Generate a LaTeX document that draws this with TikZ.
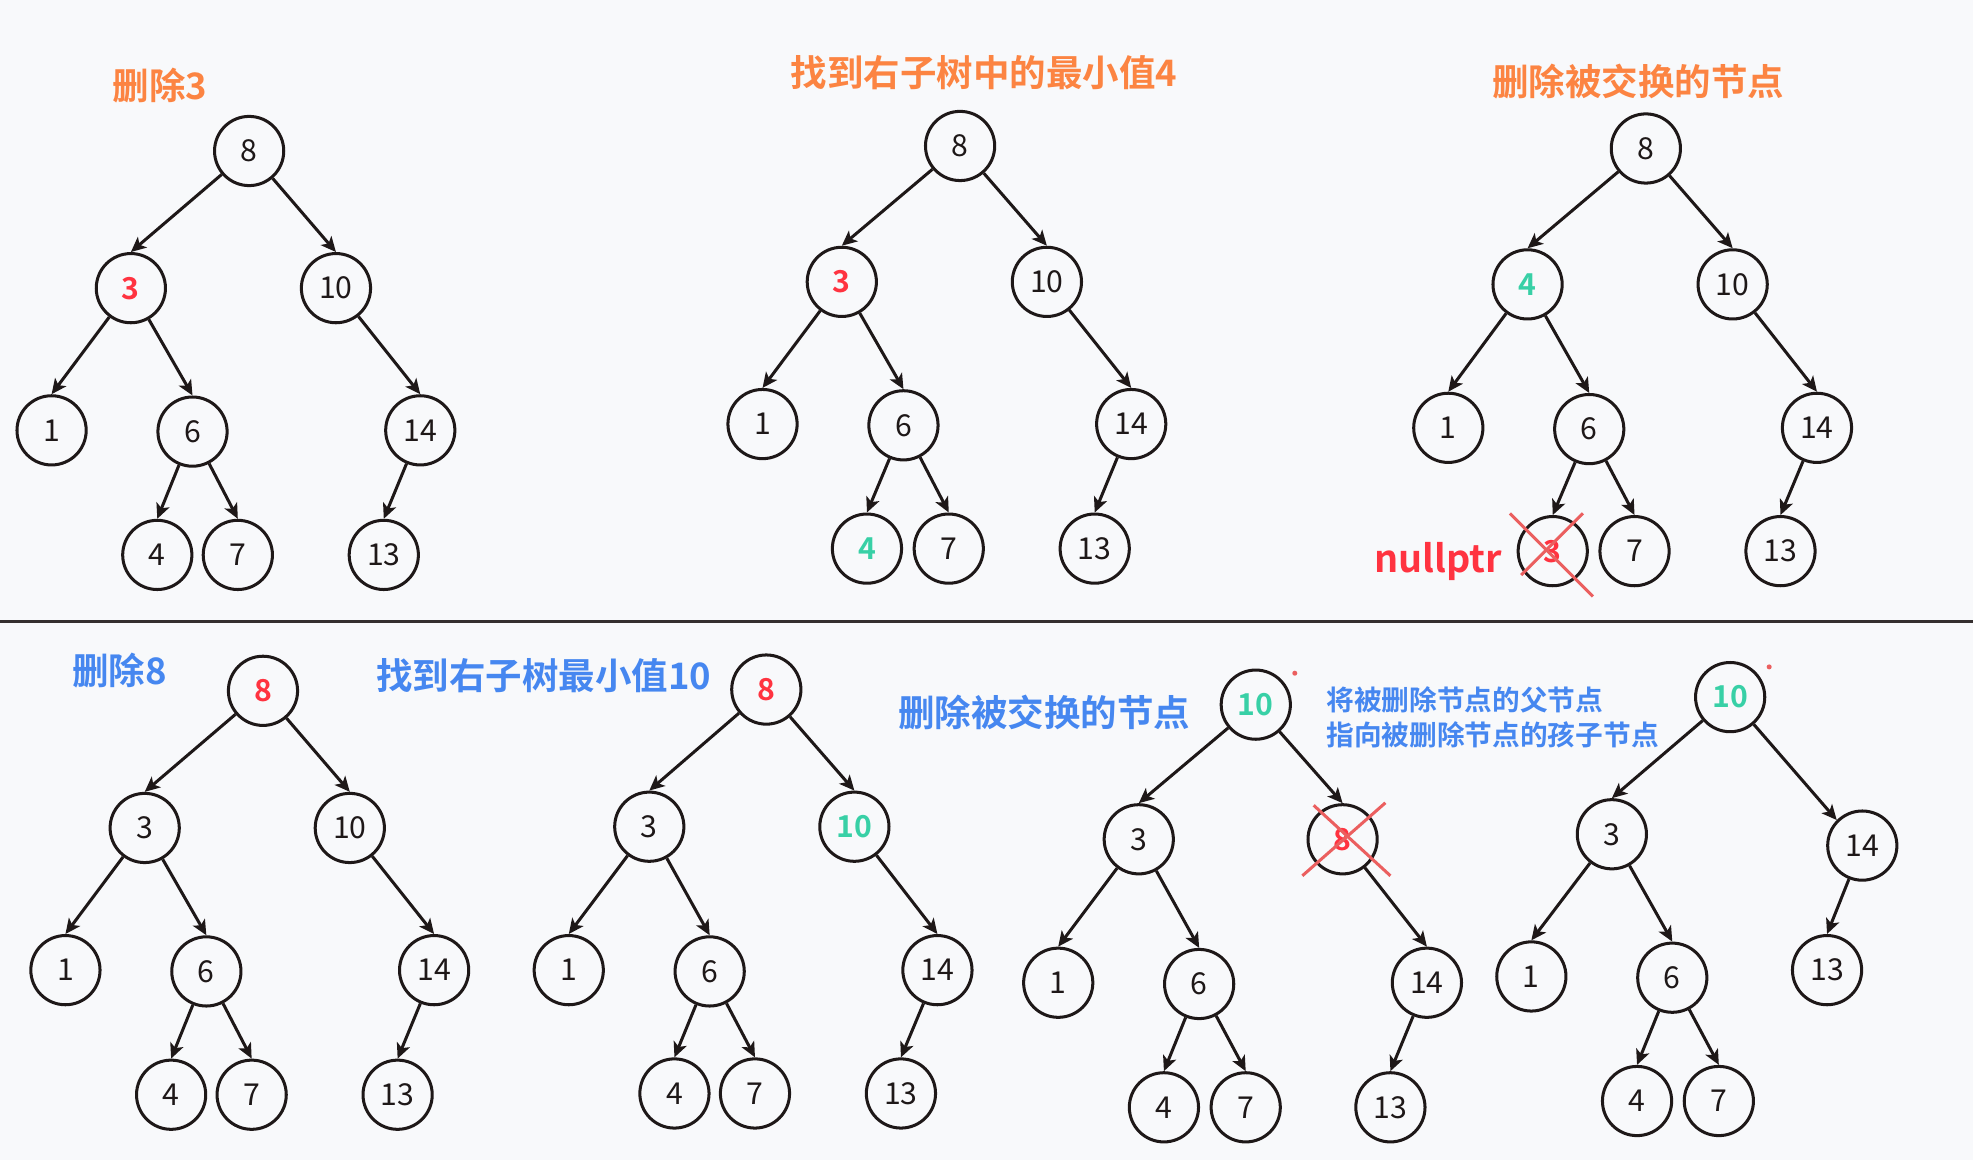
\documentclass[tikz,border=0pt]{standalone}
\usepackage{fontspec}
\setmainfont{Noto Sans CJK SC}[BoldFont={Noto Sans CJK SC Bold}]
\usetikzlibrary{arrows.meta}
\definecolor{bg}{RGB}{248,249,251}
\definecolor{ink}{RGB}{30,24,24}
\definecolor{orng}{RGB}{252,132,66}
\definecolor{blu}{RGB}{70,135,240}
\definecolor{rd}{RGB}{255,51,64}
\definecolor{tl}{RGB}{56,208,166}
\definecolor{xr}{RGB}{235,95,95}
\tikzset{
 nd/.style={circle,draw=ink,line width=2.4pt,minimum size=55pt,inner sep=0pt,font=\fontsize{24}{24}\selectfont,text=ink},
 hot/.style={text=rd,font=\fontsize{24}{24}\selectfont\bfseries},
 hit/.style={text=tl,font=\fontsize{24}{24}\selectfont\bfseries},
 edge/.style={draw=ink,line width=2.4pt,-{Stealth[length=12pt,width=11pt,inset=3pt]}},
 ttl/.style={font=\fontsize{29}{29}\selectfont\bfseries,inner sep=0pt},
 note/.style={font=\fontsize{22}{28}\selectfont\bfseries,text=blu,inner sep=0pt,anchor=west},
 xline/.style={draw=xr,line width=2.4pt},
}
\begin{document}
\begin{tikzpicture}[x=1pt,y=-1pt]
\fill[bg] (0,0) rectangle (1568,922);
\useasboundingbox (0,0) rectangle (1568,922);
\draw[ink!90,line width=3pt] (0,494) coordinate (dl) -- (1568,494) coordinate (dr);

% ---------- Panel A ----------
\node[ttl,text=orng] (ta) at (127,68) {删除3};
\node[nd] (a8) at (198,120) {8};
\node[nd,hot] (a3) at (104,229) {3};
\node[nd] (a10) at (267,229) {10};
\node[nd] (a1) at (41,342) {1};
\node[nd] (a6) at (153,343) {6};
\node[nd] (a14) at (334,342) {14};
\node[nd] (a4) at (125,441) {4};
\node[nd] (a7) at (189,441) {7};
\node[nd] (a13) at (305,441) {13};
\draw[edge] (a8) -- (a3.north);
\draw[edge] (a8) -- (a10.north);
\draw[edge] (a3) -- (a1.north);
\draw[edge] (a3) -- (a6.north);
\draw[edge] (a6) -- (a4.north);
\draw[edge] (a6) -- (a7.north);
\draw[edge] (a10) -- (a14.north);
\draw[edge] (a14) -- (a13.north);

% ---------- Panel B ----------
\node[ttl,text=orng] (tb) at (782,58) {找到右子树中的最小值4};
\node[nd] (b8) at (763,116) {8};
\node[nd,hot] (b3) at (669,224) {3};
\node[nd] (b10) at (832,224) {10};
\node[nd] (b1) at (606,337) {1};
\node[nd] (b6) at (718,338) {6};
\node[nd] (b14) at (899,337) {14};
\node[nd,hit] (b4) at (689,436) {4};
\node[nd] (b7) at (754,436) {7};
\node[nd] (b13) at (870,436) {13};
\draw[edge] (b8) -- (b3.north);
\draw[edge] (b8) -- (b10.north);
\draw[edge] (b3) -- (b1.north);
\draw[edge] (b3) -- (b6.north);
\draw[edge] (b6) -- (b4.north);
\draw[edge] (b6) -- (b7.north);
\draw[edge] (b10) -- (b14.north);
\draw[edge] (b14) -- (b13.north);

% ---------- Panel C ----------
\node[ttl,text=orng] (tc) at (1302,65) {删除被交换的节点};
\node[nd] (c8) at (1308,118) {8};
\node[nd,hit] (c4) at (1214,226) {4};
\node[nd] (c10) at (1377,226) {10};
\node[nd] (c1) at (1151,340) {1};
\node[nd] (c6) at (1263,341) {6};
\node[nd] (c14) at (1444,340) {14};
\node[nd,hot] (c3) at (1234,438) {3};
\node[nd] (c7) at (1299,438) {7};
\node[nd] (c13) at (1415,438) {13};
\draw[edge] (c8) -- (c4.north);
\draw[edge] (c8) -- (c10.north);
\draw[edge] (c4) -- (c1.north);
\draw[edge] (c4) -- (c6.north);
\draw[edge] (c6) -- (c3.north);
\draw[edge] (c6) -- (c7.north);
\draw[edge] (c10) -- (c14.north);
\draw[edge] (c14) -- (c13.north);
\coordinate (cx1) at (1200,408); \coordinate (cx2) at (1266,474);
\coordinate (cx3) at (1258,408); \coordinate (cx4) at (1209,457);
\draw[xline] (cx1) -- (cx2);
\draw[xline] (cx3) -- (cx4);
\node[font=\fontsize{30}{30}\selectfont\bfseries,text=rd,inner sep=0pt] (np) at (1143,446) {nullptr};

% ---------- Panel D ----------
\node[ttl,text=blu] (td) at (95,533) {删除8};
\node[nd,hot] (d8) at (209,549) {8};
\node[nd] (d3) at (115,658) {3};
\node[nd] (d10) at (278,658) {10};
\node[nd] (d1) at (52,771) {1};
\node[nd] (d6) at (164,772) {6};
\node[nd] (d14) at (345,771) {14};
\node[nd] (d4) at (136,870) {4};
\node[nd] (d7) at (200,870) {7};
\node[nd] (d13) at (316,870) {13};
\draw[edge] (d8) -- (d3.north);
\draw[edge] (d8) -- (d10.north);
\draw[edge] (d3) -- (d1.north);
\draw[edge] (d3) -- (d6.north);
\draw[edge] (d6) -- (d4.north);
\draw[edge] (d6) -- (d7.north);
\draw[edge] (d10) -- (d14.north);
\draw[edge] (d14) -- (d13.north);

% ---------- Panel E ----------
\node[ttl,text=blu] (te) at (432,537) {找到右子树最小值10};
\node[nd,hot] (e8) at (609,548) {8};
\node[nd] (e3) at (516,657) {3};
\node[nd,hit] (e10) at (679,657) {10};
\node[nd] (e1) at (452,771) {1};
\node[nd] (e6) at (564,772) {6};
\node[nd] (e14) at (745,771) {14};
\node[nd] (e4) at (536,869) {4};
\node[nd] (e7) at (600,869) {7};
\node[nd] (e13) at (716,869) {13};
\draw[edge] (e8) -- (e3.north);
\draw[edge] (e8) -- (e10.north);
\draw[edge] (e3) -- (e1.north);
\draw[edge] (e3) -- (e6.north);
\draw[edge] (e6) -- (e4.north);
\draw[edge] (e6) -- (e7.north);
\draw[edge] (e10) -- (e14.north);
\draw[edge] (e14) -- (e13.north);

% ---------- Panel F ----------
\node[ttl,text=blu] (tf) at (830,566) {删除被交换的节点};
\node[nd,hit] (f10) at (998,560) {10};
\node[nd] (f3) at (905,667) {3};
\node[nd,hot] (f8) at (1067,667) {8};
\node[nd] (f1) at (841,781) {1};
\node[nd] (f6) at (953,782) {6};
\node[nd] (f14) at (1134,781) {14};
\node[nd] (f4) at (925,880) {4};
\node[nd] (f7) at (990,880) {7};
\node[nd] (f13) at (1105,880) {13};
\draw[edge] (f10) -- (f3.north);
\draw[edge] (f10) -- (f8.north);
\draw[edge] (f3) -- (f1.north);
\draw[edge] (f3) -- (f6.north);
\draw[edge] (f6) -- (f4.north);
\draw[edge] (f6) -- (f7.north);
\draw[edge] (f8) -- (f14.north);
\draw[edge] (f14) -- (f13.north);
\coordinate (fx1) at (1044,640); \coordinate (fx2) at (1105,696);
\coordinate (fx3) at (1101,638); \coordinate (fx4) at (1035,696);
\draw[xline] (fx1) -- (fx2);
\draw[xline] (fx3) -- (fx4);
\node[note] (n1) at (1054,556) {将被删除节点的父节点};
\node[note] (n2) at (1054,584) {指向被删除节点的孩子节点};
\fill[xr] (1029,535) circle (2pt);

% ---------- Panel G ----------
\node[nd,hit] (g10) at (1375,554) {10};
\node[nd] (g3) at (1281,663) {3};
\node[nd] (g14) at (1480,672) {14};
\node[nd] (g1) at (1217,776) {1};
\node[nd] (g6) at (1329,777) {6};
\node[nd] (g13) at (1452,771) {13};
\node[nd] (g4) at (1301,875) {4};
\node[nd] (g7) at (1366,875) {7};
\draw[edge] (g10) -- (g3.north);
\draw[edge] (g10) -- (g14.north west);
\draw[edge] (g3) -- (g1.north);
\draw[edge] (g3) -- (g6.north);
\draw[edge] (g6) -- (g4.north);
\draw[edge] (g6) -- (g7.north);
\draw[edge] (g14) -- (g13.north);
\fill[xr] (1406,530) circle (2pt);
\end{tikzpicture}
\end{document}
